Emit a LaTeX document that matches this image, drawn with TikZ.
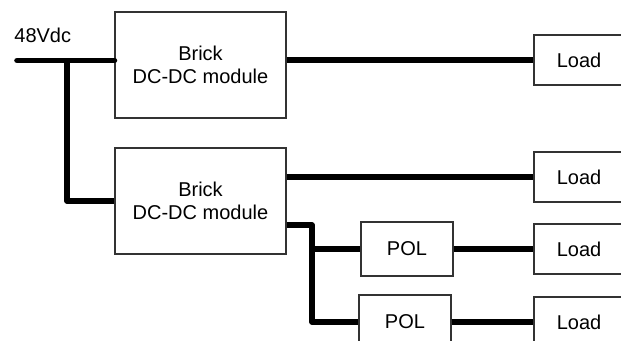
\documentclass[tikz,border=0pt]{standalone}
\usepackage{fontspec}
\setmainfont{Liberation Sans}
\usepackage{tikz}
\definecolor{boxline}{HTML}{333333}

\begin{document}
\begin{tikzpicture}[
  x=0.5pt, y=-0.5pt,
  font=\fontsize{10}{11.5}\selectfont,
  box/.style={rectangle, draw=boxline, fill=white, line width=0.55pt, align=center, inner sep=0pt},
  brickbox/.style={box, minimum width=85.5pt, minimum height=53pt},
  polbox/.style={box, minimum width=46pt, minimum height=27pt},
  loadbox/.style={box, minimum width=45pt, minimum height=25pt},
  bus/.style={line width=2.8pt, line join=round}
]
\clip (0,0) rectangle (621,341);
\node[brickbox] (brick1) at (200.5,65) {Brick\\DC-DC module};
\node[brickbox] (brick2) at (200.5,201) {Brick\\DC-DC module};
\node[polbox] (pol1) at (407,249) {POL};
\node[polbox] (pol2) at (405,322) {POL};
\node[loadbox] (load1) at (579,60) {Load};
\node[loadbox] (load2) at (579,177) {Load};
\node[loadbox] (load3) at (579,249) {Load};
\node[loadbox] (load4) at (579,322) {Load};
\node[anchor=base west, inner sep=0pt] (vin) at (14,43) {48Vdc};

\coordinate (in) at (17,60.5);
\coordinate (tap) at (67,60.5);
\coordinate (split) at (312,225);

\draw[bus, line cap=round] (in) -- (in -| brick1.west);
\draw[bus] (tap) -- (tap |- brick2.west) -- (brick2.west);
\draw[bus] (brick1.east |- load1.west) -- (load1.west);
\draw[bus] (brick2.east |- load2.west) -- (load2.west);
\draw[bus] (brick2.east |- split) -- (split) -- (split |- pol2.west) -- (pol2.west);
\draw[bus] (split |- pol1.west) -- (pol1.west);
\draw[bus] (pol1.east) -- (load3.west);
\draw[bus] (pol2.east) -- (load4.west);
\end{tikzpicture}
\end{document}
